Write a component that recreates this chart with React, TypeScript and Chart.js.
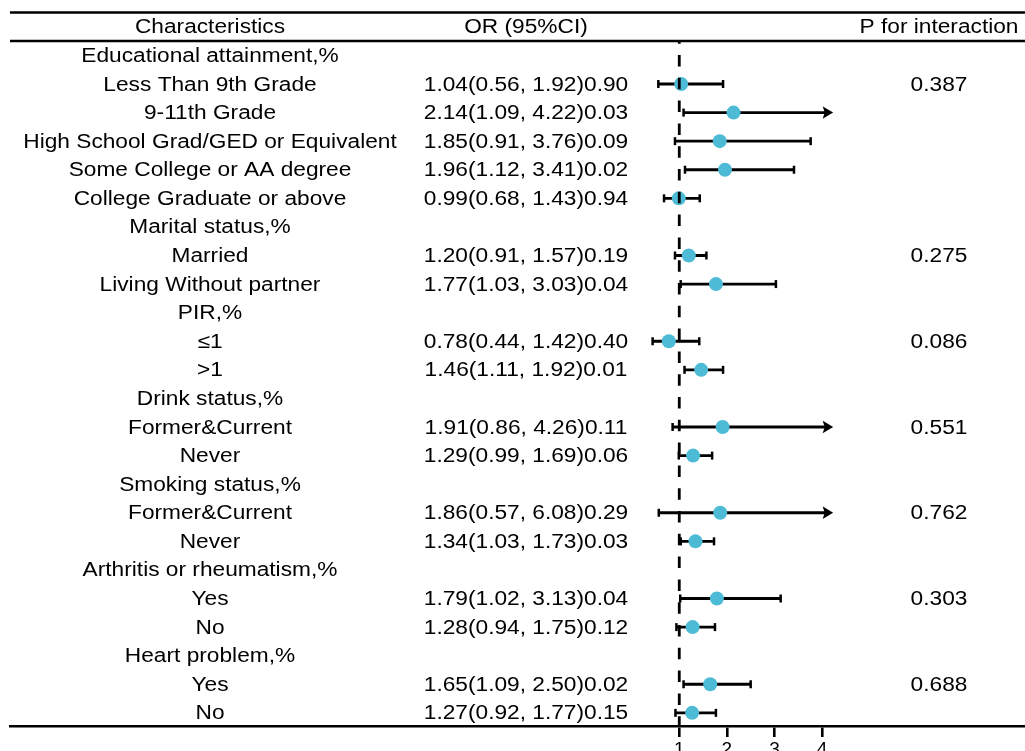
import React, { useEffect, useRef } from "react";
import { Chart, registerables } from "chart.js";

Chart.register(...registerables);

const ROW_LABELS = [
  "Educational attainment,%",
  "Less Than 9th Grade",
  "9-11th Grade",
  "High School Grad/GED or Equivalent",
  "Some College or AA degree",
  "College Graduate or above",
  "Marital status,%",
  "Married",
  "Living Without partner",
  "PIR,%",
  "≤1",
  ">1",
  "Drink status,%",
  "Former&Current",
  "Never",
  "Smoking status,%",
  "Former&Current",
  "Never",
  "Arthritis or rheumatism,%",
  "Yes",
  "No",
  "Heart problem,%",
  "Yes",
  "No",
];

const OR_VALUES: (number | null)[] = [
  null, 1.04, 2.14, 1.85, 1.96, 0.99,
  null, 1.2, 1.77,
  null, 0.78, 1.46,
  null, 1.91, 1.29,
  null, 1.86, 1.34,
  null, 1.79, 1.28,
  null, 1.65, 1.27,
];

const CI_LOWER: (number | null)[] = [
  null, 0.56, 1.09, 0.91, 1.12, 0.68,
  null, 0.91, 1.03,
  null, 0.44, 1.11,
  null, 0.86, 0.99,
  null, 0.57, 1.03,
  null, 1.02, 0.94,
  null, 1.09, 0.92,
];

const CI_UPPER: (number | null)[] = [
  null, 1.92, 4.22, 3.76, 3.41, 1.43,
  null, 1.57, 3.03,
  null, 1.42, 1.92,
  null, 4.26, 1.69,
  null, 6.08, 1.73,
  null, 3.13, 1.75,
  null, 2.5, 1.77,
];

const P_VALUES: (string | null)[] = [
  null, "0.90", "0.03", "0.09", "0.02", "0.94",
  null, "0.19", "0.04",
  null, "0.40", "0.01",
  null, "0.11", "0.06",
  null, "0.29", "0.03",
  null, "0.04", "0.12",
  null, "0.02", "0.15",
];

const P_INTERACTION: (string | null)[] = [
  null, "0.387", null, null, null, null,
  null, "0.275", null,
  null, "0.086", null,
  null, "0.551", null,
  null, "0.762", null,
  null, "0.303", null,
  null, "0.688", null,
];

const HEADERS = ["Characteristics", "OR (95%CI)", "P for interaction"];
const X_TICKS = [1, 2, 3, 4];
const REF_VALUE = 1;
const CLIP_MAX = 4.2;

const POINT_COLOR = "#4DBBD5";
const FONT_FAMILY = '"Liberation Sans", Arial, Helvetica, sans-serif';
const FONT_SIZE = 20;
const TEXT_SX = 1.135;
const COL_CHAR = 210;
const COL_OR = 526;
const COL_P = 939;

function fmt(v: number) {
  return v.toFixed(2);
}

function drawText(ctx: CanvasRenderingContext2D, text: string, cx: number, cy: number) {
  ctx.save();
  ctx.translate(cx, cy);
  ctx.scale(TEXT_SX, 1);
  ctx.textAlign = "center";
  ctx.textBaseline = "middle";
  ctx.fillText(text, 0, 0);
  ctx.restore();
}

const forestPlugin = {
  id: "forestPlugin",
  beforeDatasetsDraw(chart: any) {
    const ctx: CanvasRenderingContext2D = chart.ctx;
    const xs = chart.scales.x;
    const ys = chart.scales.y;
    ctx.save();
    ctx.strokeStyle = "#000";
    ctx.fillStyle = "#000";
    ctx.lineCap = "butt";
    for (let i = 0; i < ROW_LABELS.length; i++) {
      const lo = CI_LOWER[i];
      const hi = CI_UPPER[i];
      if (lo == null || hi == null) continue;
      const y = ys.getPixelForValue(i);
      const x0 = xs.getPixelForValue(lo);
      const clipped = hi > CLIP_MAX;
      const x1 = xs.getPixelForValue(clipped ? CLIP_MAX : hi);
      ctx.lineWidth = 2.8;
      ctx.beginPath();
      ctx.moveTo(x0, y);
      ctx.lineTo(clipped ? x1 - 3 : x1, y);
      ctx.stroke();
      ctx.lineWidth = 2.5;
      ctx.beginPath();
      ctx.moveTo(x0, y - 4);
      ctx.lineTo(x0, y + 4);
      ctx.stroke();
      if (clipped) {
        ctx.lineWidth = 1.6;
        ctx.lineJoin = "miter";
        ctx.beginPath();
        ctx.moveTo(x1 - 7.5, y - 4.5);
        ctx.lineTo(x1, y);
        ctx.lineTo(x1 - 7.5, y + 4.5);
        ctx.lineTo(x1 - 6, y);
        ctx.closePath();
        ctx.fill();
        ctx.stroke();
      } else {
        ctx.beginPath();
        ctx.moveTo(x1, y - 4);
        ctx.lineTo(x1, y + 4);
        ctx.stroke();
      }
    }
    ctx.restore();
  },
  afterDatasetsDraw(chart: any) {
    const ctx: CanvasRenderingContext2D = chart.ctx;
    const xs = chart.scales.x;
    const ys = chart.scales.y;
    const area = chart.chartArea;
    ctx.save();
    // reference dashed line
    const xr = xs.getPixelForValue(REF_VALUE);
    ctx.strokeStyle = "#000";
    ctx.lineWidth = 2.8;
    ctx.setLineDash([11.5, 11.3]);
    ctx.lineDashOffset = 8.8;
    ctx.beginPath();
    ctx.moveTo(xr, area.top);
    ctx.lineTo(xr, area.bottom);
    ctx.stroke();
    ctx.setLineDash([]);

    // header rules
    ctx.lineWidth = 2.6;
    const yTop = ys.getPixelForValue(-1.5);
    ctx.beginPath();
    ctx.moveTo(area.left, yTop);
    ctx.lineTo(chart.width, yTop);
    ctx.stroke();
    ctx.beginPath();
    ctx.moveTo(area.left, area.top);
    ctx.lineTo(chart.width, area.top);
    ctx.stroke();

    // texts
    ctx.fillStyle = "#000";
    ctx.font = `${FONT_SIZE}px ${FONT_FAMILY}`;
    const yh = ys.getPixelForValue(-1) + 1;
    drawText(ctx, HEADERS[0], COL_CHAR, yh);
    drawText(ctx, HEADERS[1], COL_OR, yh);
    drawText(ctx, HEADERS[2], COL_P, yh);
    for (let i = 0; i < ROW_LABELS.length; i++) {
      const y = ys.getPixelForValue(i) + 1;
      drawText(ctx, ROW_LABELS[i], COL_CHAR, y);
      const o = OR_VALUES[i];
      const lo = CI_LOWER[i];
      const hi = CI_UPPER[i];
      const p = P_VALUES[i];
      if (o != null && lo != null && hi != null && p != null) {
        drawText(ctx, `${fmt(o)}(${fmt(lo)}, ${fmt(hi)})${p}`, COL_OR, y);
      }
      const pi = P_INTERACTION[i];
      if (pi != null) drawText(ctx, pi, COL_P, y);
    }
    ctx.restore();
  },
};

export default function App() {
  const canvasRef = useRef<HTMLCanvasElement | null>(null);

  useEffect(() => {
    if (!canvasRef.current) return;
    const points: { x: number; y: number }[] = [];
    OR_VALUES.forEach((v, i) => {
      if (v != null) points.push({ x: v, y: i });
    });
    const chart = new Chart(canvasRef.current, {
      type: "scatter",
      data: {
        datasets: [
          {
            data: points,
            backgroundColor: POINT_COLOR,
            borderWidth: 0,
            pointRadius: 7,
            pointHoverRadius: 7,
          },
        ],
      },
      options: {
        animation: false,
        responsive: false,
        devicePixelRatio: 1,
        events: [],
        layout: { autoPadding: false, padding: { left: 10, top: 41, right: 0, bottom: 0 } },
        plugins: { legend: { display: false }, tooltip: { enabled: false } },
        scales: {
          x: {
            type: "linear",
            min: -13.06,
            max: 8.263,
            afterBuildTicks: (scale: any) => {
              scale.ticks = X_TICKS.map((v) => ({ value: v }));
            },
            afterFit: (scale: any) => {
              scale.height = 25;
            },
            border: { display: true, color: "#000", width: 2.6 },
            grid: {
              drawOnChartArea: false,
              drawTicks: true,
              tickLength: 11,
              color: "#000",
              lineWidth: 2.6,
            },
            ticks: {
              autoSkip: false,
              maxRotation: 0,
              padding: 1,
              color: "#000",
              font: { family: FONT_FAMILY, size: 19 },
              callback: (v: any) => String(v),
            },
          },
          y: {
            type: "linear",
            display: false,
            reverse: true,
            min: -0.504,
            max: 23.46,
          },
        },
      },
      plugins: [forestPlugin],
    });
    return () => chart.destroy();
  }, []);

  return (
    <div style={{ position: "absolute", left: 0, top: 0, width: 1025, height: 751, background: "#fff" }}>
      <canvas ref={canvasRef} width={1025} height={751} style={{ display: "block" }} />
    </div>
  );
}
